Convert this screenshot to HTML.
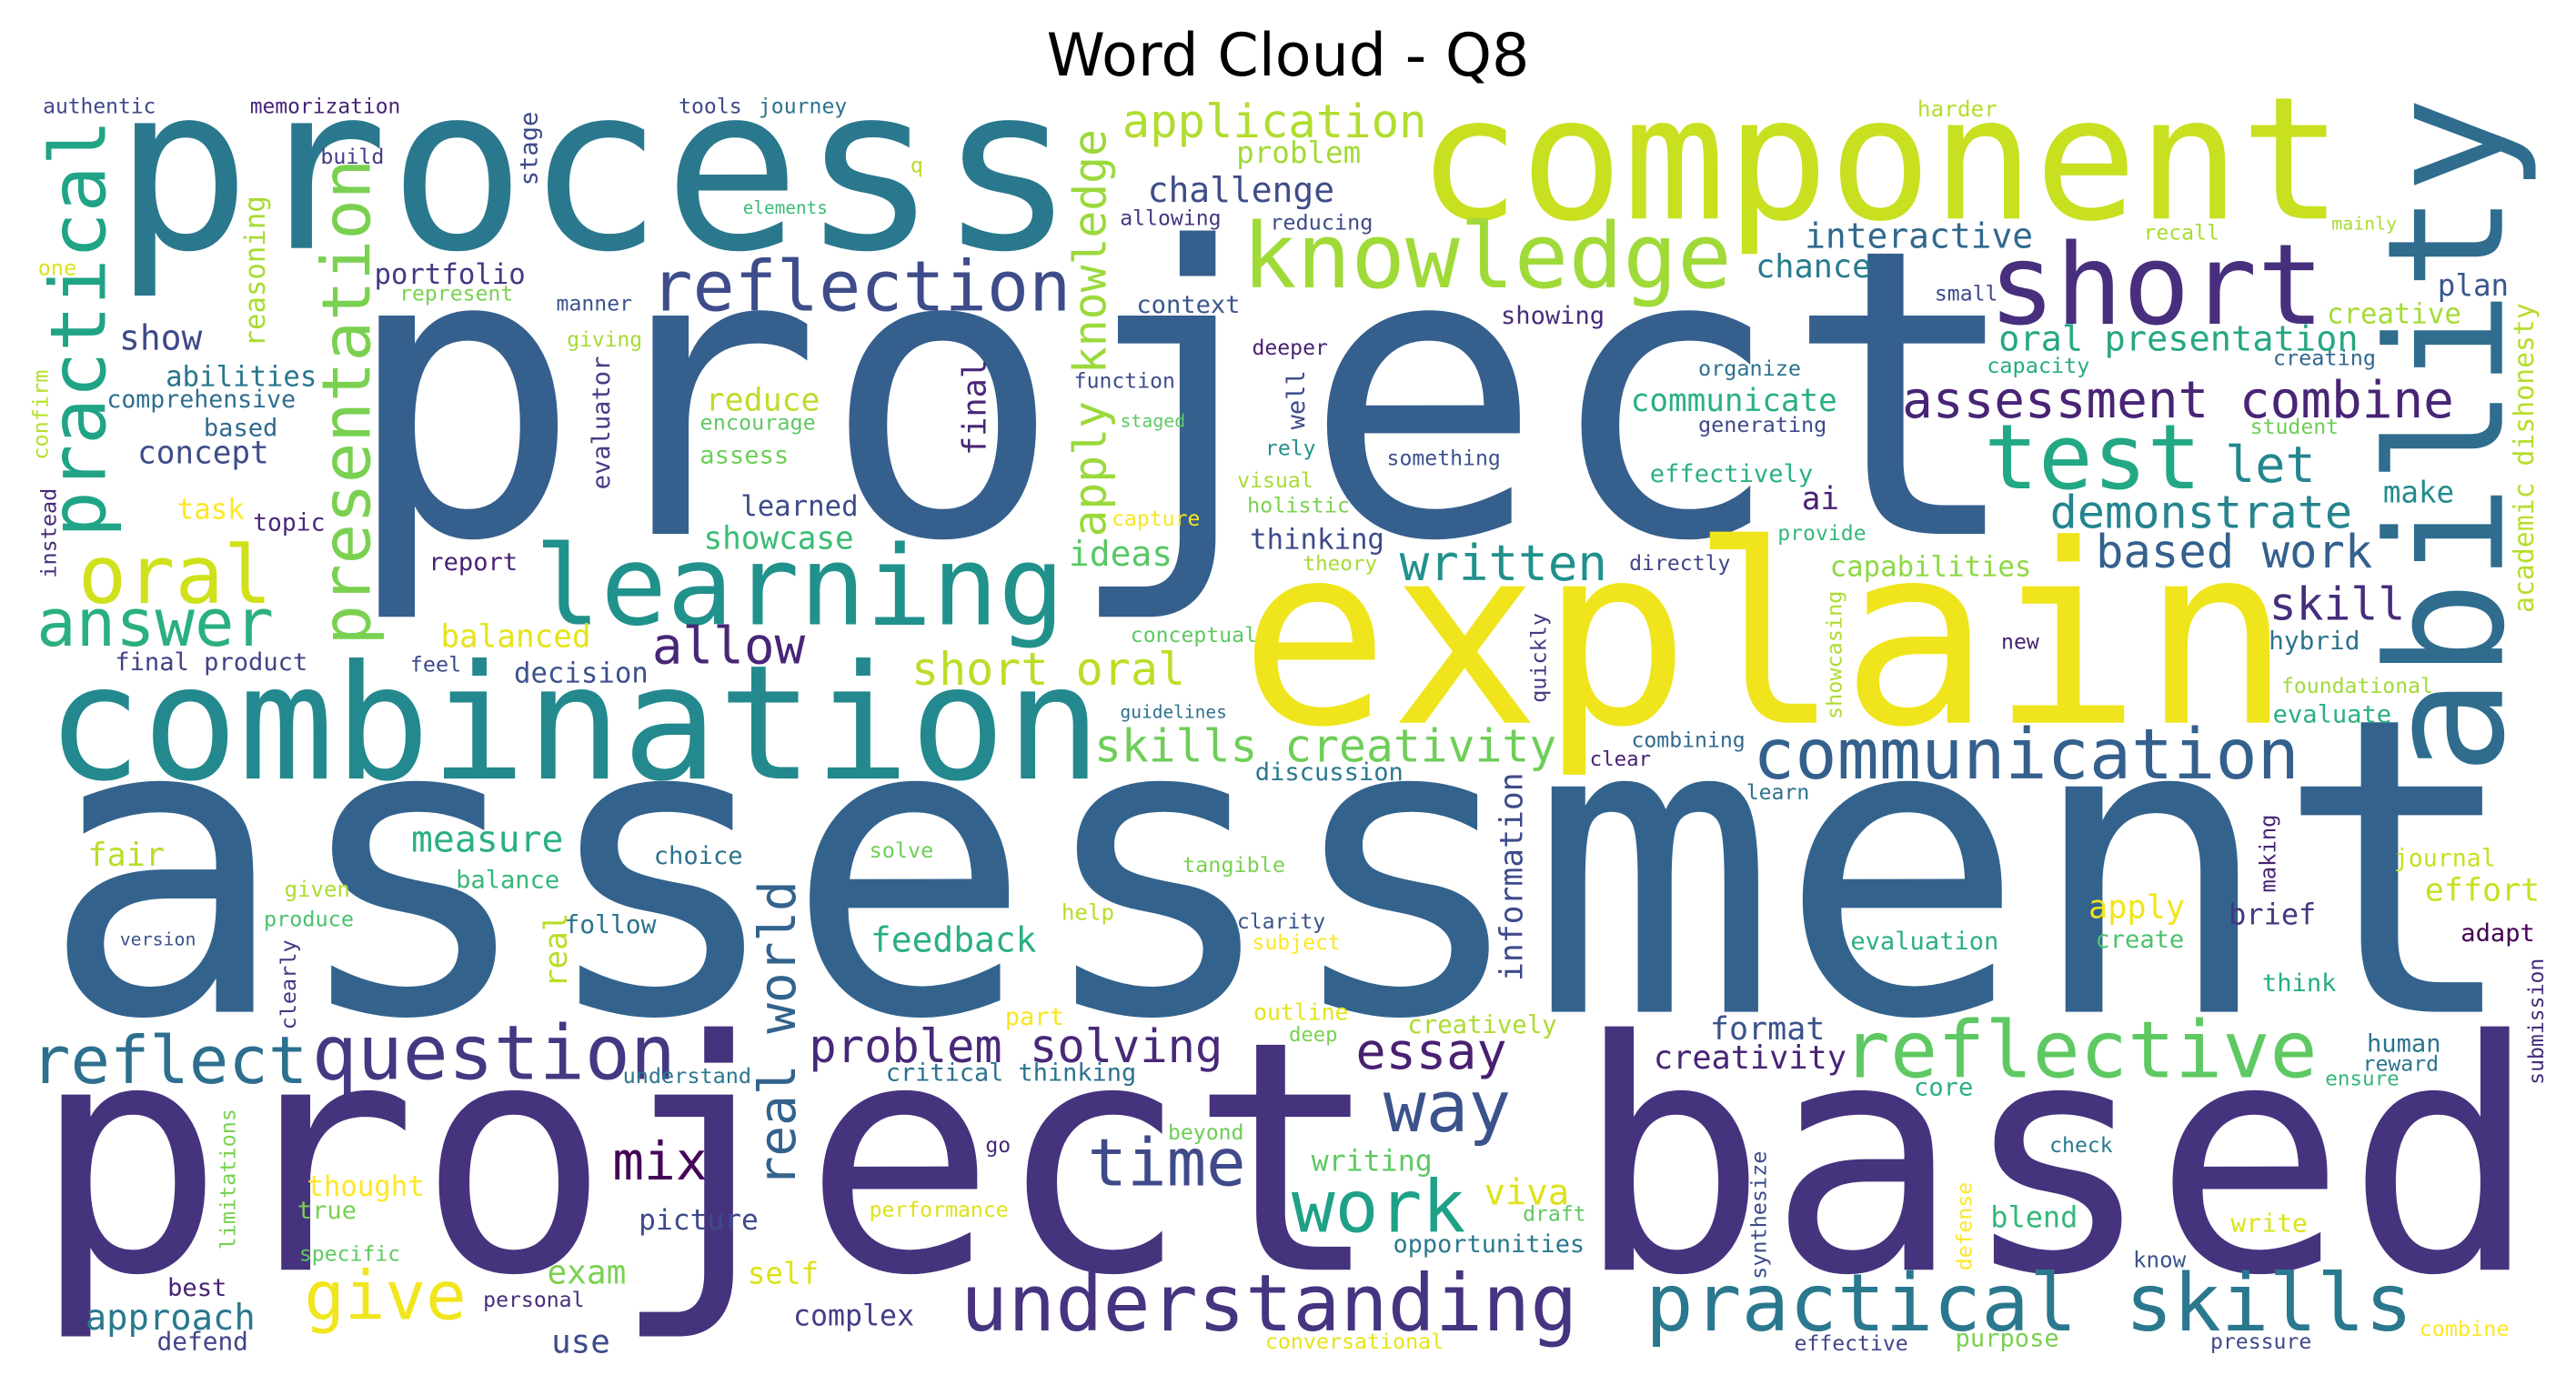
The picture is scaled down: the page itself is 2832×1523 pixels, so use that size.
<!DOCTYPE html>
<html>
<head>
<meta charset="utf-8">
<style>
  html, body { margin: 0; padding: 0; background: #ffffff; }
  #chart { display: block; }
  .w { font-family: "DejaVu Sans Mono", "Liberation Mono", monospace; }
  .title { font-family: "DejaVu Sans", "Liberation Sans", sans-serif; }
</style>
</head>
<body>
<svg id="chart" xmlns="http://www.w3.org/2000/svg" width="2832" height="1523" viewBox="0 0 1568 843.2" preserveAspectRatio="none">
  <rect x="0" y="0" width="1568" height="843.2" fill="#ffffff"/>
  <text class="title" x="784" y="46" font-size="36" text-anchor="middle" fill="#000000">Word Cloud - Q8</text>
  <g id="cloud"></g>
</svg>
<script>
// Word list, sizes (frequency-driven), layout anchors, orientation and colours
const words = [
"process","project","assessment","project based","component","explain","knowledge","short","reflection","learning",
"combination","oral","answer","show","abilities","comprehensive","based","concept","authentic","memorization",
"build","portfolio","represent","one","manner","giving","task","topic","report","balanced",
"final product","feel","decision","tools","journey","q","elements","application","problem","challenge",
"allowing","context","function","staged","reduce","encourage","assess","learned","showcase","ideas",
"capture","allow","short oral","conceptual","guidelines","reducing","interactive","chance","showing","deeper",
"organize","communicate","generating","rely","something","visual","holistic","effectively","ai","thinking",
"theory","written","directly","provide","capabilities","harder","mainly","recall","small","plan",
"creative","oral presentation","creating","capacity","assessment combine","student","test","let","demonstrate","make",
"based work","skill","hybrid","new","foundational","evaluate","fair","measure","balance","given",
"produce","version","follow","reflect","question","thought","true","specific","best","approach",
"defend","give","exam","personal","use","mix","picture","skills creativity","discussion","choice",
"solve","tangible","help","clarity","subject","feedback","part","outline","problem solving","critical thinking",
"understand","beyond","go","time","performance","self","complex","understanding","conversational","combining",
"clear","learn","communication","evaluation","creatively","deep","essay","format","creativity","reflective",
"way","writing","work","viva","draft","opportunities","practical skills","effective","journal","effort",
"apply","brief","adapt","create","think","human","reward","ensure","core","check",
"blend","write","know","combine","purpose","pressure",
"ability","practical","presentation","instead","confirm","reasoning","stage","evaluator","apply knowledge","final",
"well","quickly","showcasing","academic dishonesty","real","clearly","limitations","real world","information","synthesize",
"making","submission","defense"
];
const sizes = [
139,243,251,195,104,152,55,68,42.5,67,
97,49,40,21,17,14.7,15,19,12.7,12.7,
12.9,17,12.8,13,12.8,12.7,17,14.6,15,19,
15,13,17,12.8,12.8,13,10.7,28,18,21,
12.8,15,12.8,11,19.3,13,15,17,19,21,
12.8,31,27.7,12.8,10.8,13,21,19.5,15,12.8,
13,19,13,12.8,12.8,12.8,13,15,19,17,
12.5,30,12.8,12.8,17,13.5,11,12.8,12.8,18,
17,21.4,13,13,31,12.8,55,30.5,27.8,18,
28,27.5,15.4,12.8,12.8,15,19.5,22,15,13.3,
13,11,15.5,40,46,17,15,12.8,15,21.5,
15.4,41,20,12.8,19.8,32,17.3,27.5,15,15,
13,13,13.4,12.8,12.8,21,15,13.7,27.9,14.9,
13,12.8,12.8,40,12.8,18,17.5,48,12.9,12.8,
12.4,12.8,42.5,15,15.1,12.3,30.6,19.4,19.5,48,
43,17.5,44,21.5,12.8,14.9,48.5,12.8,14.7,19.4,
19.5,17.7,15,15,15,15,12.8,12.5,15,12.8,
17.7,15.5,13.4,13,15,12.8,
98,47,41,13,13,17,15,15,27.5,19.5,
15,13,13,16.5,19,13,13,31,19.2,13,
13.2,12.8,12.8
];
const anchorX = [
78.8,225,42,33,870,765,760,1215,399,330,
35,51,25,74,102,66,125,85,27,153,
196,229,244,24,339.5,346,109,155,262,269.5,
71,250.5,314,414,462.6,555,453,685,753.8,700,
682.6,692.8,654.6,682.6,430.8,427,427,452,429.6,652,
677.5,399,556.7,689,682.6,774,1100,1070,914.6,763,
1034.6,993.9,1034.6,771,845,754,760,1005.3,1098,762,
794,854,992.6,1082.9,1115,1168,1420,1305.6,1178.5,1485,
1417.5,1218,1384.5,1210.3,1160,1370.5,1211.5,1356.5,1249.7,1451.8,
1277.6,1383.2,1382,1219,1389.5,1384.5,54.7,251.8,278.5,174,
161.5,73.7,344.6,21.6,193,188,182,183,103,53.4,
96.6,188,334.4,295,337,375,390,668,765,399,
530,720.7,647,753.8,763,531.3,612.7,764,494.4,540.2,
380,711.8,600.7,664.8,530,456.3,484,588,771,993.9,
968.5,1063.8,1070,1127.4,857.8,785.4,827.3,1042.2,1007.9,1125,
845.1,799.4,789.2,904.9,927.8,849,1005,1093,1458.2,1477.3,
1272.6,1357.8,1498.9,1276.4,1378,1441.7,1439.1,1416.2,1166,1248.4,
1212.8,1359,1299.3,1473.5,1191.2,1346.3,
1523,64,225,34,29,161,327,371,673,600,
794,941,1121,1542,345,180,143,484,926.5,1075,
1385,1548,1200
];
const anchorY = [
151,325,616,773,133,440,175,197,189,380,
474,367,393,213,235,248,265.6,282,69,69,
99.7,172.7,183,167.6,189,211,316,323,347,394,
408,409,415.6,69,69,105,130,83.7,99,123,
137,190.5,236,260,250,261.7,282,314,334,344.4,
320,404,416.8,391,437,139.7,151,169,197,216,
228.7,250.3,263,277,283.3,296.8,312,293.5,310,334,
347,353.3,347,329,350.7,71,139.7,146,183,180,
196.9,213.4,222.3,227,254,264,297.3,293.5,321.5,306,
345.6,377.4,395.2,395,422,440,527,518.4,540.7,546,
564,575.6,568,659.5,657,728,742,767.6,789,809.5,
822,803,781.6,795.5,823.5,718,748.5,463.7,475,526,
522,531,560,565.4,578,579.4,624,621,646.8,658,
659.5,693.8,701.5,721.8,740.9,781.6,807,810,821,454.8,
466.2,486.6,474,578,629,634,650.6,632.8,650.6,655.7,
688.7,712.9,749.8,733.2,743.4,762.5,810,822.3,527.3,548.4,
559,562.9,573,576.8,603.6,640.4,651.9,660.8,667,701.5,
747.2,749.8,771.4,813.3,819.7,821,
465,324,390,351,279,210,112,297,325,276,
260.5,427,437,372,600,626,760,720.5,596,778,
542.5,659.5,772.7
];
const vertical = [
0,0,0,0,0,0,0,0,0,0, 0,0,0,0,0,0,0,0,0,0, 0,0,0,0,0,0,0,0,0,0,
0,0,0,0,0,0,0,0,0,0, 0,0,0,0,0,0,0,0,0,0, 0,0,0,0,0,0,0,0,0,0,
0,0,0,0,0,0,0,0,0,0, 0,0,0,0,0,0,0,0,0,0, 0,0,0,0,0,0,0,0,0,0,
0,0,0,0,0,0,0,0,0,0, 0,0,0,0,0,0,0,0,0,0, 0,0,0,0,0,0,0,0,0,0,
0,0,0,0,0,0,0,0,0,0, 0,0,0,0,0,0,0,0,0,0, 0,0,0,0,0,0,0,0,0,0,
0,0,0,0,0,0,0,0,0,0, 0,0,0,0,0,0,0,0,0,0, 0,0,0,0,0,0,
1,1,1,1,1,1,1,1,1,1, 1,1,1,1,1,1,1,1,1,1, 1,1,1
];
const colors = [
"#2a788e","#355f8d","#33638d","#46337e","#c8e020","#f0e51c","#a0da39","#472f7d","#3e4c8a","#21918c",
"#23898e","#d0e11c","#2ab07f","#3e4a89","#2a768e","#2e6e8e","#30698e","#3e4c8a","#3f4889","#482475",
"#433e85","#443983","#7ad151","#dde318","#3b528b","#a8db34","#fde725","#482979","#482173","#e5e419",
"#414287","#3e4a89","#3b528b","#3e4a89","#2c728e","#b8de29","#3aba76","#b0dd2f","#a2da37","#3e4c8a",
"#453781","#39568c","#3e4c8a","#5ec962","#bade28","#5ec962","#6ece58","#3e4c8a","#3bbb75","#58c765",
"#f8e621","#482677","#bade28","#5ec962","#2d708e","#3e4c8a","#31688e","#297b8e","#472c7a","#482173",
"#2c728e","#2ab07f","#3e4a89","#21918c","#3b528b","#a8db34","#7ad151","#2ab07f","#482071","#3e4a89",
"#a8db34","#21918c","#414487","#35b779","#8fd744","#b5de2b","#a8db34","#a8db34","#3e4a89","#39568c",
"#a5db36","#26a784","#31688e","#25ac82","#482475","#6ece58","#22a884","#24878e","#25858e","#228b8d",
"#34618d","#472d7b","#2c728e","#482173","#a0da39","#2ab07f","#b8de29","#2ab07f","#35b779","#addc30",
"#4ac16d","#3b528b","#2c728e","#2d6f8e","#453882","#fde725","#7ad151","#5ec962","#482173","#2a788e",
"#414487","#f1e51d","#7ad151","#472c7a","#3e4c8a","#450559","#3e4a89","#6ece58","#2a788e","#2c728e",
"#6ece58","#7ad151","#b8de29","#3b528b","#fde725","#2ab07f","#f8e621","#e2e418","#482878","#2c728e",
"#2a788e","#6ece58","#482878","#3e4a89","#dde318","#dde318","#433e85","#463480","#e7e419","#31688e",
"#482173","#2c728e","#34608d","#2ab07f","#addc30","#7ad151","#482071","#3b528b","#482475","#5ec962",
"#3b528b","#5ec962","#1fa187","#dde318","#5ec962","#2a788e","#2a788e","#414487","#c8e020","#c8e020",
"#f1e51d","#453781","#440154","#4ac16d","#26ad81","#2c728e","#2c728e","#35b779","#2ab07f","#2a788e",
"#35b779","#dde318","#3b528b","#fde725","#7ad151","#3e4a89",
"#2f6c8e","#20a386","#7ad151","#472c7a","#b5de2b","#a8db34","#3e4a89","#433e85","#9bd93c","#482777",
"#3e4c8a","#443983","#addc30","#b5de2b","#b8de29","#443983","#7ad151","#33638d","#3e4c8a","#3e4c8a",
"#482475","#472c7a","#fde725"
];

const SVGNS = "http://www.w3.org/2000/svg";
const cloud = document.getElementById("cloud");
function slug(s) { return s.toLowerCase().replace(/[^a-z0-9]+/g, "-"); }
for (let i = 0; i < words.length; i++) {
  const s = sizes[i];
  const t = document.createElementNS(SVGNS, "text");
  t.setAttribute("class", "w");
  t.setAttribute("font-size", s);
  t.setAttribute("fill", colors[i]);
  if (vertical[i]) {
    const x = anchorX[i];
    const y = anchorY[i] + 0.07 * s;
    t.setAttribute("x", x);
    t.setAttribute("y", y);
    t.setAttribute("transform", "rotate(-90 " + x + " " + y + ")");
  } else {
    t.setAttribute("x", anchorX[i] - 0.07 * s);
    t.setAttribute("y", anchorY[i]);
  }
  t.textContent = words[i];
  
  
  cloud.appendChild(t);
}
</script>
</body>
</html>
